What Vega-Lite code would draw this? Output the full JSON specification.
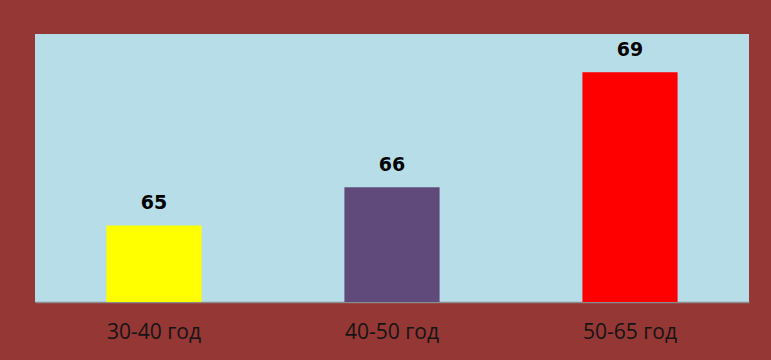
{
  "$schema": "https://vega.github.io/schema/vega-lite/v6.json",
  "width": 714,
  "height": 268,
  "autosize": "none",
  "padding": {"left": 35, "top": 34, "right": 22, "bottom": 58},
  "background": "#953735",
  "config": {
    "view": {"fill": "#B7DEE8", "stroke": null}
  },
  "data": {
    "values": [
      {"group": "30-40 год", "value": 65, "color": "#FFFF00"},
      {"group": "40-50 год", "value": 66, "color": "#604A7B"},
      {"group": "50-65 год", "value": 69, "color": "#FF0000"}
    ]
  },
  "encoding": {
    "x": {
      "field": "group",
      "type": "nominal",
      "sort": null,
      "scale": {"paddingInner": 0, "paddingOuter": 0},
      "axis": {
        "title": null,
        "labelAngle": 0,
        "ticks": false,
        "tickSize": 0,
        "labelPadding": 36,
        "labelBaseline": "alphabetic",
        "labelFont": "Open Sans",
        "labelFontSize": 21,
        "labelColor": "#141414",
        "domainColor": "#8c8c8c",
        "domainWidth": 1.5,
        "grid": false
      }
    },
    "y": {
      "field": "value",
      "type": "quantitative",
      "scale": {"domain": [63, 70], "zero": false, "nice": false},
      "axis": null
    }
  },
  "layer": [
    {
      "mark": {"type": "bar", "width": {"band": 0.4}},
      "encoding": {
        "y2": {"datum": 63},
        "color": {"field": "color", "type": "nominal", "scale": null}
      }
    },
    {
      "mark": {
        "type": "text",
        "baseline": "alphabetic",
        "dy": -16,
        "font": "DejaVu Sans",
        "fontWeight": "bold",
        "fontSize": 19,
        "color": "#000000"
      },
      "encoding": {
        "text": {"field": "value", "type": "quantitative"}
      }
    }
  ]
}
